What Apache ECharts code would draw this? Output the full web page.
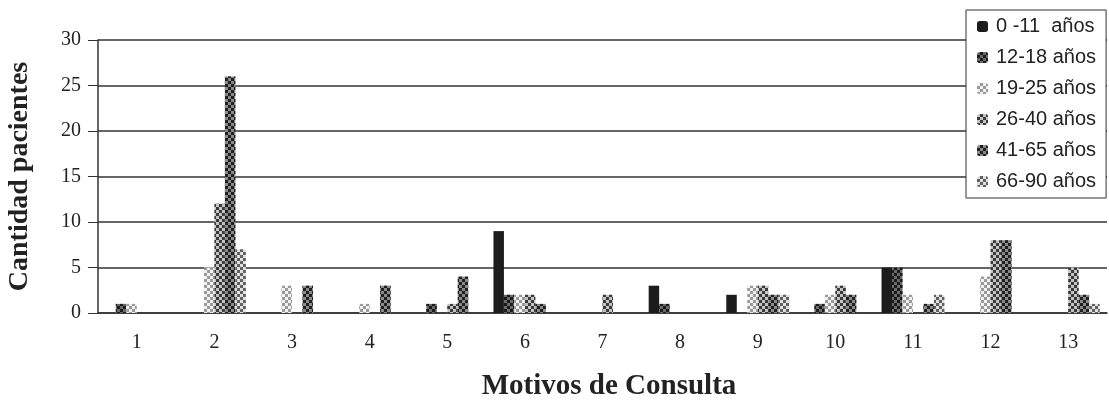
<!DOCTYPE html>
<html lang="es">
<head>
    <meta charset="UTF-8">
    <title>Motivos de Consulta</title>
    <script src="https://cdn.jsdelivr.net/npm/echarts@6/dist/echarts.min.js"></script>
    <style>
        html, body { margin: 0; padding: 0; background: #fff; }
        #main { width: 1109px; height: 406px; }
    </style>
</head>
<body>
<div id="main"></div>
<script>
    // datos
    var motivos = ['1', '2', '3', '4', '5', '6', '7', '8', '9', '10', '11', '12', '13'];
    var grupos = ['0 -11  años', '12-18 años', '19-25 años', '26-40 años', '41-65 años', '66-90 años'];
    var edad0_11 = [0, 0, 0, 0, 0, 9, 0, 3, 2, 0, 5, 0, 0];
    var edad12_18 = [1, 0, 0, 0, 1, 2, 0, 1, 0, 1, 5, 0, 0];
    var edad19_25 = [1, 5, 3, 1, 0, 2, 0, 0, 3, 2, 2, 4, 0];
    var edad26_40 = [0, 12, 0, 0, 1, 2, 2, 0, 3, 3, 0, 8, 5];
    var edad41_65 = [0, 26, 3, 3, 4, 1, 0, 0, 2, 2, 1, 8, 2];
    var edad66_90 = [0, 7, 0, 0, 0, 0, 0, 0, 2, 0, 2, 0, 1];
    var yTicks = [0, 5, 10, 15, 20, 25, 30];

    var valores = [edad0_11, edad12_18, edad19_25, edad26_40, edad41_65, edad66_90];
    var fondos = ['#1c1c1c', '#6a6a6a', '#f2f2f2', '#c4c4c4', '#8a8a8a', '#e0e0e0'];
    var tramas = [null, '#1a1a1a', '#9a9a9a', '#3a3a3a', '#202020', '#606060'];

    var serif = '"Liberation Serif", "Times New Roman", serif';

    var series = [];
    for (var i = 0; i < grupos.length; i++) {
        var estilo = { color: fondos[i] };
        if (tramas[i]) {
            estilo.decal = {
                symbol: 'rect',
                symbolSize: 1,
                color: tramas[i],
                dashArrayX: [[3, 3], [0, 3, 3, 0]],
                dashArrayY: [3, 0]
            };
        }
        series.push({
            name: grupos[i],
            type: 'bar',
            barGap: '0%',
            barCategoryGap: '19%',
            itemStyle: estilo,
            data: valores[i]
        });
    }

    var chart = echarts.init(document.getElementById('main'));
    var option = {
        animation: false,
        backgroundColor: '#fff',
        title: {
            text: 'Motivos de Consulta',
            left: 604,
            textAlign: 'center',
            top: 367,
            textStyle: { fontFamily: serif, fontSize: 29, fontWeight: 'bold', color: '#222' }
        },
        legend: {
            data: grupos,
            orient: 'vertical',
            left: 966,
            top: 10,
            padding: [6, 10, 6, 11],
            itemWidth: 11,
            itemHeight: 11,
            itemGap: 10,
            borderColor: '#333',
            borderWidth: 1,
            backgroundColor: '#fff',
            textStyle: {
                fontFamily: '"Liberation Sans", Arial, sans-serif',
                fontSize: 20,
                color: '#222',
                lineHeight: 21,
                padding: [0, 0, 0, 3]
            }
        },
        grid: {
            left: 98,
            right: 2,
            top: 40,
            bottom: 93,
            outerBoundsMode: 'none'
        },
        xAxis: {
            type: 'category',
            data: motivos,
            axisLine: { lineStyle: { color: '#333', width: 1.5 } },
            axisTick: { length: 9, lineStyle: { color: '#333', width: 1 } },
            axisLabel: { margin: 20, fontFamily: serif, fontSize: 20, color: '#222' }
        },
        yAxis: {
            type: 'value',
            min: yTicks[0],
            max: yTicks[yTicks.length - 1],
            interval: 5,
            name: 'Cantidad pacientes',
            nameLocation: 'middle',
            nameGap: 64,
            nameTextStyle: { fontFamily: serif, fontSize: 28, fontWeight: 'bold', color: '#222' },
            axisLine: { show: true, lineStyle: { color: '#333', width: 1.5 } },
            axisTick: { show: true, length: 10, lineStyle: { color: '#333' } },
            axisLabel: { margin: 17, fontFamily: serif, fontSize: 20, color: '#222' },
            splitLine: { lineStyle: { color: '#333', width: 1.5 } }
        },
        series: series
    };
    chart.setOption(option);
</script>
</body>
</html>
